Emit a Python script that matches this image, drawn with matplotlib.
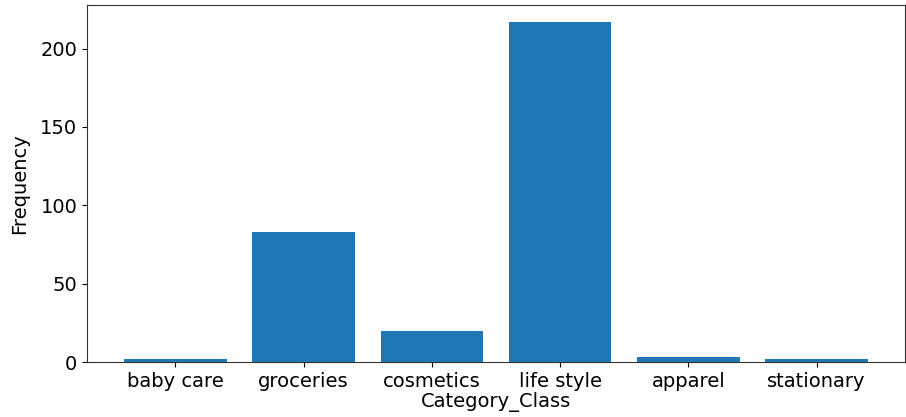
import matplotlib
matplotlib.use("Agg")
import matplotlib.pyplot as plt

categories = ["baby care", "groceries", "cosmetics", "life style", "apparel", "stationary"]
frequency = [2, 83, 20, 217, 3, 2]

fig = plt.figure(figsize=(9.06, 4.17), dpi=100)
ax = fig.add_axes([87 / 906, 1 - 362 / 417, (905 - 87) / 906, (362 - 5) / 417])
ax.bar(categories, frequency, color="#1f77b4")
ax.set_xlabel("Category_Class", fontsize=14, labelpad=1)
ax.set_ylabel("Frequency", fontsize=14, labelpad=8)
ax.tick_params(labelsize=14)
for s in ax.spines.values():
    s.set_color("#333333")
fig.savefig("out.png", dpi=100)
